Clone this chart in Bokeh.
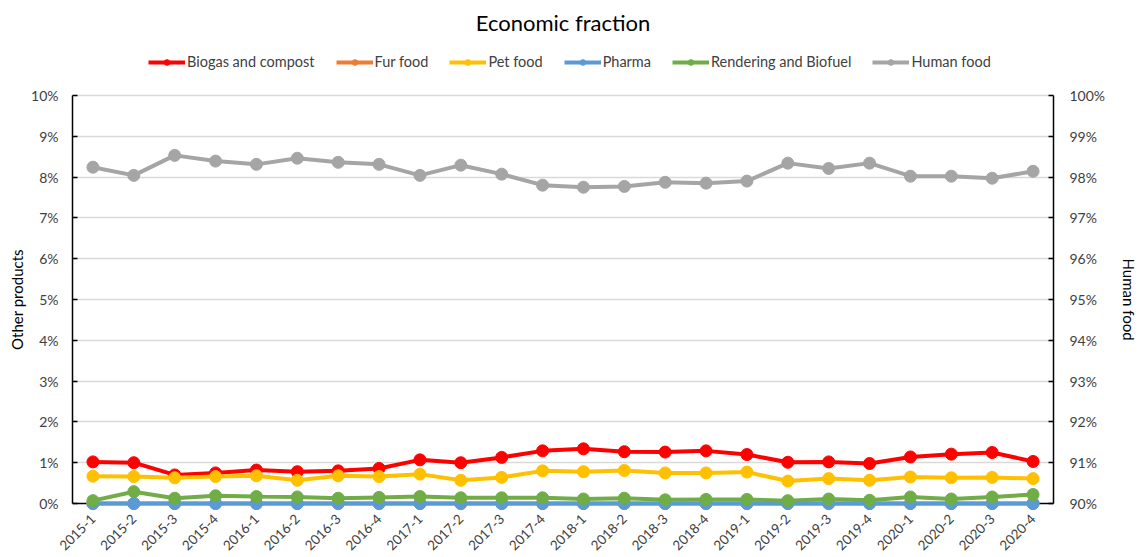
from math import pi
from bokeh.plotting import figure
from bokeh.models import (FactorRange, Range1d, LinearAxis, FixedTicker, PrintfTickFormatter,
                          Legend, LegendItem, Grid)
from bokeh.embed import file_html
from bokeh.resources import INLINE

periods = ["2015-1", "2015-2", "2015-3", "2015-4", "2016-1", "2016-2", "2016-3", "2016-4",
           "2017-1", "2017-2", "2017-3", "2017-4", "2018-1", "2018-2", "2018-3", "2018-4",
           "2019-1", "2019-2", "2019-3", "2019-4", "2020-1", "2020-2", "2020-3", "2020-4"]

biogas = [1.02, 1.00, 0.70, 0.75, 0.82, 0.78, 0.80, 0.86, 1.07, 1.00, 1.13, 1.29,
          1.34, 1.27, 1.26, 1.29, 1.20, 1.01, 1.02, 0.98, 1.14, 1.21, 1.25, 1.03]
fur_food = [0.0] * 24
pet_food = [0.67, 0.66, 0.63, 0.66, 0.68, 0.57, 0.68, 0.66, 0.72, 0.57, 0.64, 0.80,
            0.78, 0.81, 0.75, 0.75, 0.77, 0.55, 0.61, 0.57, 0.65, 0.63, 0.64, 0.61]
pharma = [0.0] * 24
rendering = [0.07, 0.29, 0.13, 0.19, 0.17, 0.16, 0.13, 0.15, 0.17, 0.14, 0.14, 0.14,
             0.11, 0.13, 0.09, 0.10, 0.10, 0.07, 0.11, 0.08, 0.16, 0.11, 0.16, 0.22]
human_food = [98.24, 98.04, 98.53, 98.39, 98.31, 98.46, 98.36, 98.31, 98.04, 98.29, 98.07, 97.80,
              97.75, 97.77, 97.87, 97.85, 97.90, 98.34, 98.21, 98.34, 98.02, 98.02, 97.97, 98.14]

left_ticks = list(range(0, 11))
right_ticks = list(range(90, 101))

FONT = "Lato"
TXT = "#404040"
PAD = "\u00a0" * 12

# frame spans y=40..511 px; 1 unit = 40.9 px, value 0 at y=503, value 10 at y=94
PX = 40.9
LO = -8 / PX
HI = 10 + 54 / PX

p = figure(width=1141, height=557, x_range=FactorRange(*periods), y_range=Range1d(LO, HI),
           output_backend="svg", toolbar_location=None,
           min_border_left=72, min_border_right=75, min_border_top=40, min_border_bottom=46)
p.extra_y_ranges = {"right": Range1d(90 + LO, 90 + HI)}

p.title.text = "Economic fraction"
p.title.align = "center"
p.title.text_font = FONT
p.title.text_font_size = "22px"
p.title.text_font_style = "normal"
p.title.text_color = "#000000"
p.title.standoff = 12

p.outline_line_color = None
p.xgrid.grid_line_color = None
p.ygrid.grid_line_color = "#d9d9d9"
p.ygrid.grid_line_width = 1.5
p.ygrid.ticker = FixedTicker(ticks=left_ticks[1:])

# black baseline at 0% (horizontal category axis line)
base = Grid(dimension=1, ticker=FixedTicker(ticks=[0]), grid_line_color="#000000",
            grid_line_width=1.5)
p.add_layout(base)

series = [
    ("Biogas and compost", biogas, "#FF0000", "default"),
    ("Fur food", fur_food, "#ED7D31", "default"),
    ("Pet food", pet_food, "#FFC000", "default"),
    ("Pharma", pharma, "#5B9BD5", "default"),
    ("Rendering and Biofuel", rendering, "#70AD47", "default"),
    ("Human food", human_food, "#A5A5A5", "right"),
]

items = []
for name, vals, color, rng in series:
    l = p.line(periods, vals, line_color=color, line_width=4, y_range_name=rng, level="overlay")
    s = p.scatter(periods, vals, size=12, fill_color=color, line_color=color, y_range_name=rng,
                  level="overlay")
    items.append(LegendItem(label=name, renderers=[l, s]))

legend = Legend(items=items, orientation="horizontal", location=(76, 441),
                label_text_font=FONT, label_text_font_size="14.5px", label_text_color=TXT,
                glyph_width=37, glyph_height=14, spacing=21, label_standoff=2,
                border_line_color=None, background_fill_alpha=0,
                padding=0, margin=0)
p.add_layout(legend, "center")

fmt = PrintfTickFormatter(format="%d%%")

yl = p.yaxis[0]
yl.ticker = FixedTicker(ticks=left_ticks)
yl.formatter = fmt
yl.axis_label = "Other products" + PAD
yl.bounds = (0, 10)
yl.major_label_standoff = 14
yl.axis_label_standoff = 2

yr = LinearAxis(y_range_name="right", ticker=FixedTicker(ticks=right_ticks), formatter=fmt,
                axis_label=PAD + "Human food", bounds=(90, 100))
yr.major_label_standoff = 16
yr.axis_label_standoff = 12
p.add_layout(yr, "right")

for ax in (yl, yr):
    ax.axis_line_color = "#000000"
    ax.axis_line_width = 1.5
    ax.major_tick_in = 5
    ax.major_tick_out = 0
    ax.major_tick_line_color = "#000000"
    ax.major_tick_line_width = 1.5
    ax.minor_tick_line_color = None
    ax.major_label_text_font = FONT
    ax.major_label_text_font_size = "14px"
    ax.major_label_text_color = TXT
    ax.axis_label_text_font = FONT
    ax.axis_label_text_font_size = "15px"
    ax.axis_label_text_font_style = "normal"
    ax.axis_label_text_color = "#000000"

xa = p.xaxis[0]
xa.axis_line_color = None
xa.major_tick_line_color = None
xa.major_tick_in = 0
xa.major_tick_out = 0
xa.major_label_orientation = pi / 4
xa.major_label_text_font = FONT
xa.major_label_text_font_size = "13.5px"
xa.major_label_text_color = TXT
xa.major_label_standoff = 5

open("out.html", "w").write(file_html(p, INLINE))
